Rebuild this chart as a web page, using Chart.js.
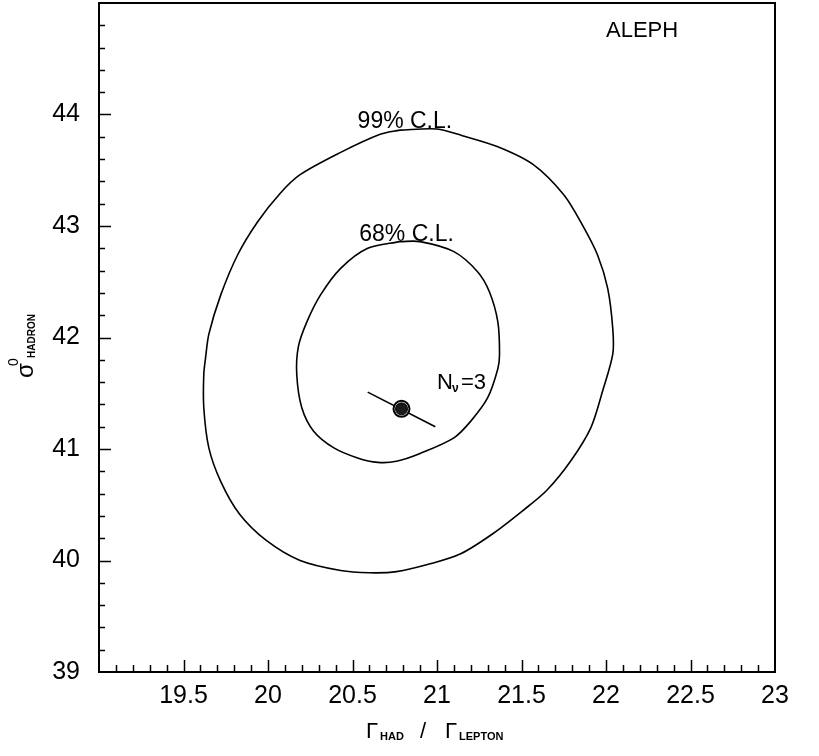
<!DOCTYPE html>
<html>
<head>
<meta charset="utf-8">
<script src="https://cdn.jsdelivr.net/npm/chart.js@4/dist/chart.umd.min.js"></script>
<style>
  html, body { margin: 0; padding: 0; background: #fff; }
  #wrap { width: 819px; height: 756px; }
</style>
</head>
<body>
<div id="wrap"><canvas id="contour" width="819" height="756"></canvas></div>
<script>
// 99% C.L. contour (Gamma_had/Gamma_lepton, sigma0_hadron)
const outerX = [20.78, 21.00, 21.15, 21.36, 21.57, 21.75, 21.86, 21.95, 22.01, 22.04, 22.04, 21.98, 21.91, 21.79, 21.65, 21.51, 21.33, 21.14, 20.96, 20.76, 20.60, 20.43, 20.19, 19.99, 19.83, 19.72, 19.65, 19.62, 19.62, 19.63, 19.65, 19.72, 19.82, 19.94, 20.07, 20.19, 20.43, 20.66, 20.78];
const outerY = [43.86, 43.87, 43.81, 43.71, 43.55, 43.28, 43.01, 42.74, 42.44, 42.08, 41.85, 41.52, 41.19, 40.89, 40.63, 40.45, 40.24, 40.06, 39.97, 39.90, 39.89, 39.91, 40.00, 40.18, 40.42, 40.71, 41.01, 41.37, 41.67, 41.81, 42.03, 42.38, 42.74, 43.04, 43.29, 43.46, 43.66, 43.82, 43.86];

// 68% C.L. contour
const innerX = [20.78, 20.90, 21.10, 21.24, 21.31, 21.36, 21.37, 21.36, 21.30, 21.20, 21.10, 20.90, 20.76, 20.65, 20.53, 20.39, 20.27, 20.20, 20.17, 20.18, 20.23, 20.31, 20.43, 20.59, 20.78];
const innerY = [42.86, 42.86, 42.77, 42.59, 42.41, 42.14, 41.85, 41.72, 41.46, 41.25, 41.10, 40.96, 40.89, 40.88, 40.92, 41.01, 41.16, 41.37, 41.67, 41.92, 42.14, 42.38, 42.62, 42.80, 42.86];

// Standard Model line through the fitted point
const smLineX = [20.59, 20.99];
const smLineY = [41.51, 41.20];

// fitted central value
const bestX = [20.79];
const bestY = [41.36];

const xTickValues = [19.5, 20, 20.5, 21, 21.5, 22, 22.5, 23];
const yTickValues = [39, 40, 41, 42, 43, 44];

const pts = (xs, ys) => xs.map((x, i) => ({ x: x, y: ys[i] }));

const FONT = '"Liberation Sans", Arial, sans-serif';

// frame, inward ticks, text annotations and axis titles
const decor = {
  id: 'decor',
  afterDraw(chart) {
    const ctx = chart.ctx;
    const a = chart.chartArea;
    const xs = chart.scales.x, ys = chart.scales.y;
    ctx.save();
    ctx.strokeStyle = '#000';
    ctx.lineWidth = 2;
    ctx.strokeRect(a.left, a.top, a.right - a.left, a.bottom - a.top);

    ctx.lineWidth = 1.5;
    ctx.beginPath();
    for (let i = 1; i < 40; i++) {
      const v = 19 + i * 0.1;
      const px = Math.round(xs.getPixelForValue(v)) + 0.5;
      const len = i % 5 === 0 ? 12 : 7;
      ctx.moveTo(px, a.bottom);
      ctx.lineTo(px, a.bottom - len);
    }
    for (let i = 1; i < 30; i++) {
      const v = 39 + i * 0.2;
      const py = Math.round(ys.getPixelForValue(v)) + 0.5;
      const len = i % 5 === 0 ? 12 : 6;
      ctx.moveTo(a.left, py);
      ctx.lineTo(a.left + len, py);
    }
    ctx.stroke();

    ctx.fillStyle = '#000';
    ctx.textBaseline = 'alphabetic';
    ctx.textAlign = 'center';
    ctx.font = '23px ' + FONT;
    ctx.fillText('99% C.L.', xs.getPixelForValue(20.81), ys.getPixelForValue(43.87) - 1);
    ctx.fillText('68% C.L.', xs.getPixelForValue(20.82), ys.getPixelForValue(42.86) - 1);

    ctx.textAlign = 'left';
    ctx.font = '22px ' + FONT;
    ctx.fillText('ALEPH', 606, 37);

    // N_nu = 3
    let nx = xs.getPixelForValue(21.0), ny = ys.getPixelForValue(41.54);
    ctx.font = '22px ' + FONT;
    ctx.fillText('N', nx, ny);
    ctx.font = 'bold 12px ' + FONT;
    ctx.fillText('\u03bd', nx + 15, ny + 3);
    ctx.font = '22px ' + FONT;
    ctx.fillText('=3', nx + 24, ny);

    // x axis title
    ctx.font = '22px ' + FONT;
    ctx.fillText('\u0393', 366, 738);
    ctx.font = 'bold 11px ' + FONT;
    ctx.fillText('HAD', 380, 740);
    ctx.font = '22px ' + FONT;
    ctx.fillText('/', 420, 738);
    ctx.fillText('\u0393', 445, 738);
    ctx.font = 'bold 11px ' + FONT;
    ctx.fillText('LEPTON', 459, 740);

    // y axis title, rotated
    ctx.translate(33, 378);
    ctx.rotate(-Math.PI / 2);
    ctx.font = '24px ' + FONT;
    ctx.fillText('\u03c3', 0, 0);
    ctx.font = '14px ' + FONT;
    ctx.fillText('0', 12, -15);
    ctx.font = 'bold 10px ' + FONT;
    ctx.fillText('HADRON', 20, 2);
    ctx.restore();
  }
};

new Chart(document.getElementById('contour'), {
  type: 'scatter',
  data: {
    datasets: [
      {
        label: 'fit',
        data: pts(bestX, bestY),
        pointRadius: 6,
        pointBackgroundColor: '#1a1a1a',
        pointBorderColor: '#000',
        pointBorderWidth: 1
      },
      {
        label: 'fit ring',
        data: pts(bestX, bestY),
        pointRadius: 8,
        pointBackgroundColor: '#fff',
        pointBorderColor: '#000',
        pointBorderWidth: 2
      },
      {
        label: 'SM',
        data: pts(smLineX, smLineY),
        showLine: true,
        borderColor: '#000',
        borderWidth: 1.6,
        pointRadius: 0
      },
      {
        label: '99% C.L.',
        data: pts(outerX, outerY),
        showLine: true,
        borderColor: '#000',
        borderWidth: 1.6,
        pointRadius: 0,
        tension: 0.3
      },
      {
        label: '68% C.L.',
        data: pts(innerX, innerY),
        showLine: true,
        borderColor: '#000',
        borderWidth: 1.6,
        pointRadius: 0,
        tension: 0.3
      }
    ]
  },
  options: {
    responsive: false,
    animation: false,
    devicePixelRatio: 1,
    layout: { autoPadding: false, padding: { top: 3, right: 44, left: 0, bottom: 0 } },
    plugins: {
      legend: { display: false },
      tooltip: { enabled: false }
    },
    scales: {
      x: {
        type: 'linear',
        min: 19,
        max: 23,
        afterFit: s => { s.height = 84; s.paddingLeft = 0; s.paddingRight = 0; },
        afterBuildTicks: s => { s.ticks = xTickValues.map(v => ({ value: v })); },
        grid: { display: false, drawTicks: false },
        border: { display: false },
        ticks: {
          padding: 9,
          color: '#000',
          font: { family: FONT, size: 25 },
          callback: v => String(v)
        }
      },
      y: {
        type: 'linear',
        min: 39,
        max: 45,
        afterFit: s => { s.width = 99; s.paddingTop = 0; s.paddingBottom = 0; },
        afterBuildTicks: s => { s.ticks = yTickValues.map(v => ({ value: v })); },
        grid: { display: false, drawTicks: false },
        border: { display: false },
        ticks: {
          padding: 19,
          color: '#000',
          font: { family: FONT, size: 25 },
          callback: v => String(v)
        }
      }
    }
  },
  plugins: [decor]
});
</script>
</body>
</html>
